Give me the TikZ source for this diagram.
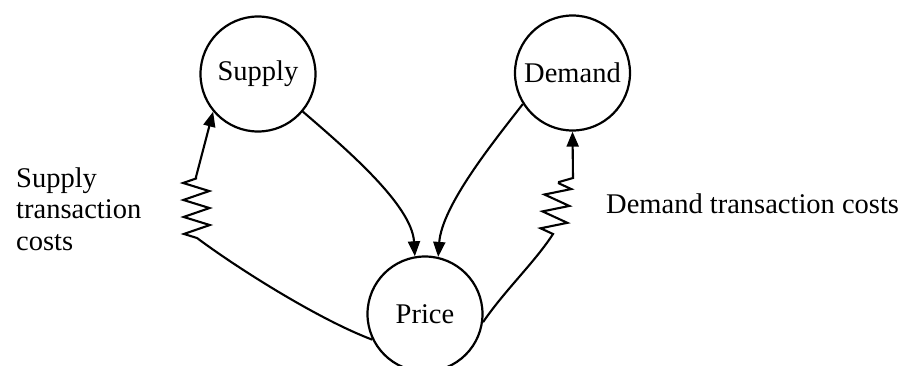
\documentclass[tikz,border=0pt]{standalone}
\usepackage{fontspec}
\setmainfont{Liberation Serif}
\usetikzlibrary{arrows.meta,decorations.pathmorphing}
\begin{document}
\begin{tikzpicture}[x=1pt,y=-1pt,
  every node/.style={font=\fontsize{28.5}{31.5}\selectfont},
  state/.style={circle,draw,line width=2.2pt,minimum size=115pt,inner sep=0pt},
  arr/.style={line width=2.1pt,-{Triangle[length=15pt,width=12pt]}},
  zz/.style={decoration={zigzag,segment length=17pt,amplitude=13pt}},
  lbl/.style={inner sep=0pt,align=left}]
\clip (0,0) rectangle (902,365);
\fill[white] (0,0) rectangle (902,365);
\node[state] (Supply) at (258,74) {Supply};
\node[state] (Demand) at (572.5,73) {Demand};
\node[state] (Price) at (425,314) {Price};
\node[lbl,anchor=west] (stc) at (16,209) {Supply\\transaction\\costs};
\node[lbl,anchor=base west] (dtc) at (606,213) {Demand transaction costs};
\coordinate (zb1) at (197,238);
\coordinate (zt1) at (196,177);
\coordinate (zb2) at (553,234);
\coordinate (zt2) at (559,182);
\coordinate (zk2) at (573,178);
\draw[arr] (Supply.-40) .. controls (345,148) and (412,205) .. (Price.100);
\draw[arr] (Demand.212) .. controls (495,140) and (442,205) .. (Price.77);
\draw[arr] (Price.206) .. controls (320,320) and (240,270) .. (zb1)
  decorate[zz] {-- (zt1)} -- (Supply.220);
\draw[arr] (Price.-8) .. controls (505,290) and (535,262) .. (zb2)
  decorate[zz] {-- (zt2)} -- (zk2) -- (Demand.-90);
\end{tikzpicture}
\end{document}
